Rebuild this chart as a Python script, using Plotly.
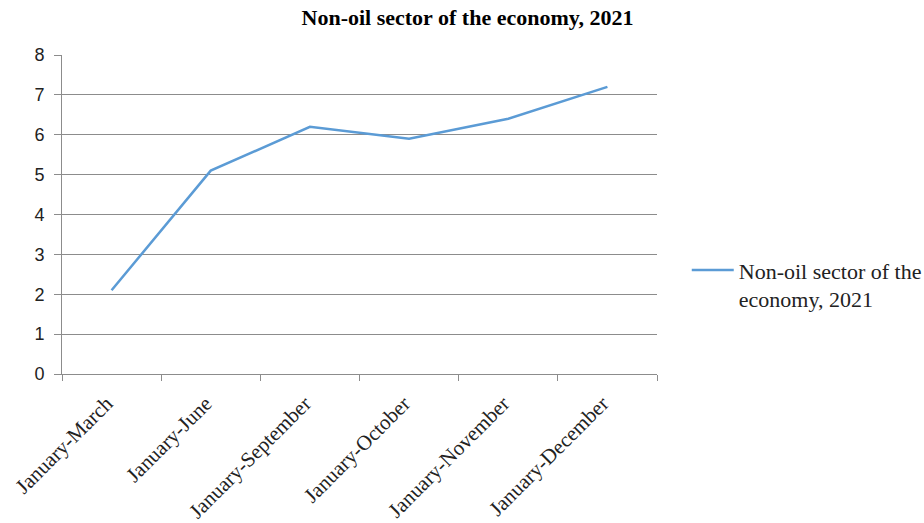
import plotly.graph_objects as go

periods = ["January-March", "January-June", "January-September",
           "January-October", "January-November", "January-December"]
growth = [2.1, 5.1, 6.2, 5.9, 6.4, 7.2]
series_name = "Non-oil sector of the<br>economy, 2021"
title_text = "Non-oil sector of the economy, 2021"

grid = "#8c8c8c"

fig = go.Figure()
fig.add_trace(go.Scatter(
    x=periods, y=growth, mode="lines", name=series_name,
    line=dict(color="#5B9BD5", width=2.5),
))

fig.update_layout(
    width=924, height=523,
    margin=dict(l=62, r=267, t=55, b=149, autoexpand=False),
    paper_bgcolor="white", plot_bgcolor="white",
    title=dict(text="<b>" + title_text + "</b>", x=0.506, xref="container",
               y=1 - 17 / 523, yref="container", yanchor="middle",
               font=dict(family="Liberation Serif", size=22, color="black")),
    showlegend=True,
    legend=dict(x=1.05, y=0.28, xanchor="left", yanchor="middle",
                valign="top",
                font=dict(family="Liberation Serif", size=22, color="#222"),
                itemwidth=42, bgcolor="rgba(0,0,0,0)"),
    xaxis=dict(type="category", range=[-0.5, 5.5], tickson="boundaries",
               automargin=False,
               showgrid=False, showline=True, linecolor=grid, linewidth=1,
               ticks="outside", ticklen=6, tickcolor=grid,
               tickangle=-45, ticklabelstandoff=8, ticklabelshift=-5,
               tickfont=dict(family="Liberation Serif", size=21, color="#222")),
    yaxis=dict(range=[0, 8], dtick=1, showgrid=True, gridcolor=grid,
               automargin=False,
               gridwidth=1, showline=True, linecolor=grid, linewidth=1,
               ticks="outside", ticklen=7, tickcolor=grid, zeroline=False,
               ticklabelstandoff=6,
               tickfont=dict(family="Liberation Sans", size=18, color="#222")),
)

fig.write_html("out.html")
